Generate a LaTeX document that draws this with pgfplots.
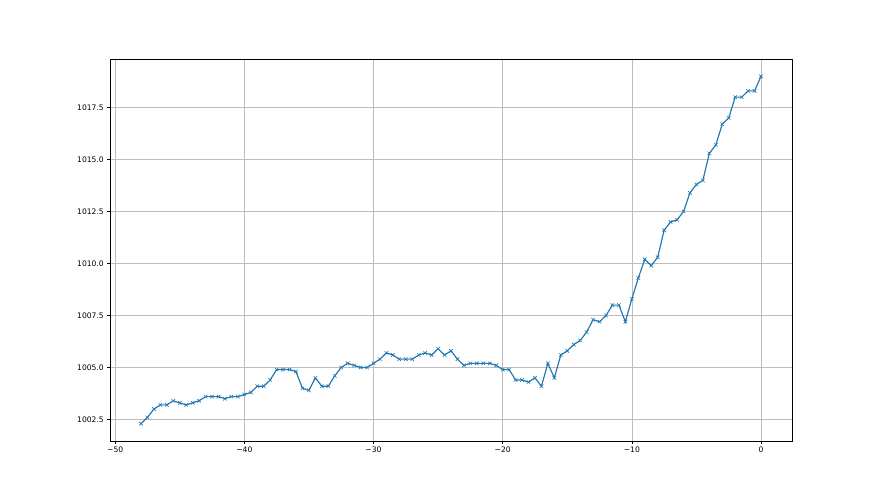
\documentclass[border=0pt]{standalone}
\usepackage{fontspec}
\setmainfont{DejaVu Sans}
\usepackage{pgfplots}
\pgfplotsset{compat=1.18}
\definecolor{mplblue}{HTML}{1F77B4}
\definecolor{mplgrid}{HTML}{BDBDBD}
\begin{document}
\begin{tikzpicture}
\useasboundingbox (-110pt,-54pt) rectangle (770pt,441pt);
\begin{axis}[
  at={(0pt,0pt)}, anchor=south west,
  scale only axis, width=682pt, height=382pt,
  xmin=-50.4, xmax=2.4, ymin=1001.465, ymax=1019.835,
  xtick={-50,-40,-30,-20,-10,0},
  xticklabels={−50,−40,−30,−20,−10,0},
  ytick={1002.5,1005,1007.5,1010,1012.5,1015,1017.5},
  yticklabels={1002.5,1005.0,1007.5,1010.0,1012.5,1015.0,1017.5},
  tick align=outside, major tick length=2.7pt,
  tick style={black, line width=0.6pt},
  axis line style={black, line width=0.6pt},
  grid=major, major grid style={mplgrid, line width=0.5pt},
  ticklabel style={font=\fontsize{7.6}{9}\selectfont},
  /pgf/number format/assume math mode=true,
  xtick pos=bottom, ytick pos=left,
  clip=false,
]
\addplot[mplblue, line width=1.15pt, mark=x, mark size=2.5pt, mark options={line width=0.6pt}] table {
x y
-48 1002.3
-47.5 1002.6
-47 1003.0
-46.5 1003.2
-46 1003.2
-45.5 1003.4
-45 1003.3
-44.5 1003.2
-44 1003.3
-43.5 1003.4
-43 1003.6
-42.5 1003.6
-42 1003.6
-41.5 1003.5
-41 1003.6
-40.5 1003.6
-40 1003.7
-39.5 1003.8
-39 1004.1
-38.5 1004.1
-38 1004.4
-37.5 1004.9
-37 1004.9
-36.5 1004.9
-36 1004.8
-35.5 1004.0
-35 1003.9
-34.5 1004.5
-34 1004.1
-33.5 1004.1
-33 1004.6
-32.5 1005.0
-32 1005.2
-31.5 1005.1
-31 1005.0
-30.5 1005.0
-30 1005.2
-29.5 1005.4
-29 1005.7
-28.5 1005.6
-28 1005.4
-27.5 1005.4
-27 1005.4
-26.5 1005.6
-26 1005.7
-25.5 1005.6
-25 1005.9
-24.5 1005.6
-24 1005.8
-23.5 1005.4
-23 1005.1
-22.5 1005.2
-22 1005.2
-21.5 1005.2
-21 1005.2
-20.5 1005.1
-20 1004.9
-19.5 1004.9
-19 1004.4
-18.5 1004.4
-18 1004.3
-17.5 1004.5
-17 1004.1
-16.5 1005.2
-16 1004.5
-15.5 1005.6
-15 1005.8
-14.5 1006.1
-14 1006.3
-13.5 1006.7
-13 1007.3
-12.5 1007.2
-12 1007.5
-11.5 1008.0
-11 1008.0
-10.5 1007.2
-10 1008.3
-9.5 1009.3
-9 1010.2
-8.5 1009.9
-8 1010.3
-7.5 1011.6
-7 1012.0
-6.5 1012.1
-6 1012.5
-5.5 1013.4
-5 1013.8
-4.5 1014.0
-4 1015.3
-3.5 1015.7
-3 1016.7
-2.5 1017.0
-2 1018.0
-1.5 1018.0
-1 1018.3
-0.5 1018.3
0 1019.0
};
\end{axis}
\end{tikzpicture}
\end{document}
